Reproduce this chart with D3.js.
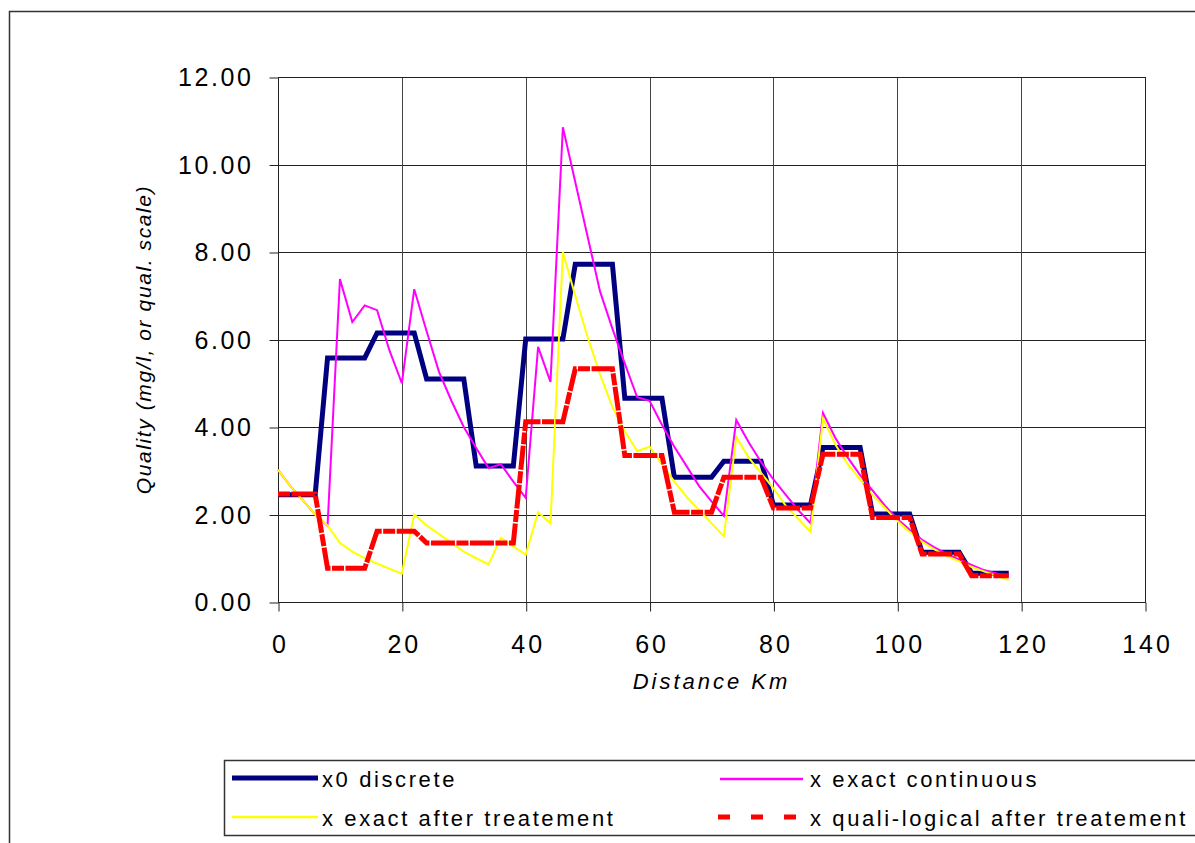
<!DOCTYPE html>
<html lang="en">
<head>
  <meta charset="utf-8">
  <title>Quality along river</title>
  <script src="https://d3js.org/d3.v7.min.js"></script>
  <style>
    body { margin: 0; background: #fff; }
    svg text { font-family: "Liberation Sans", Arial, sans-serif; fill: #000; }
  </style>
</head>
<body>
<div id="my_chart"></div>
<script>
  // distance along the river (km)
  const km = [0, 2, 4, 6, 8, 10, 12, 14, 16, 18, 20, 22, 24, 26, 28, 30, 32, 34, 36, 38,
    40, 42, 44, 46, 48, 50, 52, 54, 56, 58, 60, 62, 64, 66, 68, 70, 72, 74, 76, 78,
    80, 82, 84, 86, 88, 90, 92, 94, 96, 98, 100, 102, 104, 106, 108, 110, 112, 114, 116, 118]

  const x0Discrete = [2.45, 2.45, 2.45, 2.45, 5.58, 5.58, 5.58, 5.58, 6.15, 6.15, 6.15, 6.15,
    5.10, 5.10, 5.10, 5.10, 3.11, 3.11, 3.11, 3.11, 6.01, 6.01, 6.01, 6.01,
    7.72, 7.72, 7.72, 7.72, 4.66, 4.66, 4.66, 4.66, 2.85, 2.85, 2.85, 2.85,
    3.22, 3.22, 3.22, 3.22, 2.22, 2.22, 2.22, 2.22, 3.53, 3.53, 3.53, 3.53,
    2.01, 2.01, 2.01, 2.01, 1.14, 1.14, 1.14, 1.14, 0.66, 0.66, 0.66, 0.66]

  const xExactContinuous = [3.02, 2.65, 2.33, 2.00, 1.74, 7.38, 6.40, 6.78, 6.67, 5.75, 5.00, 7.15,
    6.19, 5.26, 4.60, 4.00, 3.52, 3.06, 3.15, 2.75, 2.38, 5.83, 5.03, 10.85,
    9.60, 8.35, 7.10, 6.25, 5.45, 4.68, 4.60, 4.05, 3.55, 3.10, 2.65, 2.30,
    1.97, 4.16, 3.65, 3.20, 2.80, 2.45, 2.10, 1.80, 4.32, 3.75, 3.30, 2.90,
    2.55, 2.20, 1.90, 1.65, 1.42, 1.25, 1.10, 0.97, 0.85, 0.73, 0.65, 0.58]

  const xExactTreated = [3.02, 2.65, 2.33, 2.00, 1.75, 1.35, 1.15, 1.00, 0.88, 0.76, 0.65, 2.00,
    1.75, 1.55, 1.35, 1.15, 1.00, 0.86, 1.47, 1.27, 1.08, 2.05, 1.80, 8.00,
    7.00, 6.05, 5.20, 4.46, 3.90, 3.45, 3.55, 3.15, 2.75, 2.40, 2.10, 1.80,
    1.50, 3.77, 3.30, 2.95, 2.60, 2.20, 1.90, 1.60, 4.20, 3.60, 3.15, 2.80,
    2.45, 2.15, 1.85, 1.60, 1.38, 1.20, 1.05, 0.93, 0.80, 0.70, 0.60, 0.50]

  const xQualiTreated = [2.47, 2.47, 2.47, 2.47, 0.77, 0.77, 0.77, 0.77, 1.62, 1.62, 1.62, 1.62,
    1.35, 1.35, 1.35, 1.35, 1.35, 1.35, 1.35, 1.35, 4.12, 4.12, 4.12, 4.12,
    5.33, 5.33, 5.33, 5.33, 3.35, 3.35, 3.35, 3.35, 2.05, 2.05, 2.05, 2.05,
    2.85, 2.85, 2.85, 2.85, 2.15, 2.15, 2.15, 2.15, 3.38, 3.38, 3.38, 3.38,
    1.93, 1.93, 1.93, 1.93, 1.10, 1.10, 1.10, 1.10, 0.60, 0.60, 0.60, 0.60]

  const xTicks = [0, 20, 40, 60, 80, 100, 120, 140]
  const yTicks = [0, 2, 4, 6, 8, 10, 12]

  const seriesNames = ["x0 discrete", "x exact continuous", "x exact after treatement", "x quali-logical after treatement"]

  // drawing order: navy first, red dashes on top
  const series = [
    { name: seriesNames[0], values: x0Discrete, color: "#000080", width: 5, dash: null },
    { name: seriesNames[1], values: xExactContinuous, color: "#ff00ff", width: 2, dash: null },
    { name: seriesNames[2], values: xExactTreated, color: "#ffff00", width: 2, dash: null },
    { name: seriesNames[3], values: xQualiTreated, color: "#ff0000", width: 5, dash: "12,1.5,24,1.5" }
  ]

  const W = 1195, H = 843
  const plot = { left: 278, right: 1145, top: 77, bottom: 602 }

  const svg = d3.select("#my_chart")
    .append("svg")
    .attr("width", W)
    .attr("height", H)

  // outer chart frame (runs off the right and bottom edges)
  svg.append("rect")
    .attr("x", 9.5).attr("y", 11.5)
    .attr("width", 1200).attr("height", 850)
    .attr("fill", "none")
    .attr("stroke", "#333")
    .attr("stroke-width", 1.5)

  const x = d3.scaleLinear().domain([0, 140]).range([plot.left, plot.right])
  const y = d3.scaleLinear().domain([0, 12]).range([plot.bottom, plot.top])

  // grid lines
  svg.append("g")
    .selectAll("line")
    .data(yTicks.slice(1, -1))
    .join("line")
      .attr("x1", plot.left).attr("x2", plot.right)
      .attr("y1", d => Math.round(y(d)) + 0.5).attr("y2", d => Math.round(y(d)) + 0.5)
      .attr("stroke", "#222")
  svg.append("g")
    .selectAll("line")
    .data(xTicks.slice(1, -1))
    .join("line")
      .attr("x1", d => Math.round(x(d)) + 0.5).attr("x2", d => Math.round(x(d)) + 0.5)
      .attr("y1", plot.top).attr("y2", plot.bottom)
      .attr("stroke", "#444")

  // axes
  const xAxis = svg.append("g")
    .attr("transform", `translate(0.5, ${plot.bottom + 0.5})`)
    .call(d3.axisBottom(x).tickValues(xTicks).tickSizeInner(9).tickSizeOuter(0).tickPadding(24).tickFormat(d3.format("d")))
  xAxis.select(".domain").remove()
  xAxis.selectAll("line").attr("stroke", "#222")
  xAxis.selectAll("text")
    .attr("font-size", 25)
    .attr("letter-spacing", 3)
    .attr("dx", 1.5)

  const yAxis = svg.append("g")
    .attr("transform", `translate(${plot.left + 0.5}, 0.5)`)
    .call(d3.axisLeft(y).tickValues(yTicks).tickSizeInner(9).tickSizeOuter(0).tickPadding(16).tickFormat(d3.format(".2f")))
  yAxis.select(".domain").remove()
  yAxis.selectAll("line").attr("stroke", "#222")
  yAxis.selectAll("text")
    .attr("font-size", 25)
    .attr("letter-spacing", 2.6)

  // plot area border
  svg.append("rect")
    .attr("x", plot.left + 0.5).attr("y", plot.top + 0.5)
    .attr("width", plot.right - plot.left).attr("height", plot.bottom - plot.top)
    .attr("fill", "none")
    .attr("stroke", "#222")

  // series lines
  const line = d3.line()
    .x((d, i) => x(km[i]))
    .y(d => y(d))

  svg.append("g")
    .selectAll("path")
    .data(series)
    .join("path")
      .attr("d", d => line(d.values))
      .attr("fill", "none")
      .attr("stroke", d => d.color)
      .attr("stroke-width", d => d.width)
      .attr("stroke-dasharray", d => d.dash)
      .attr("stroke-linejoin", "miter")

  // axis titles
  svg.append("text")
    .attr("x", (plot.left + plot.right) / 2)
    .attr("y", 689)
    .attr("text-anchor", "middle")
    .attr("font-size", 22)
    .attr("font-style", "italic")
    .attr("letter-spacing", 3)
    .text("Distance Km")

  svg.append("text")
    .attr("transform", `translate(151, ${(plot.top + plot.bottom) / 2}) rotate(-90)`)
    .attr("text-anchor", "middle")
    .attr("font-size", 21)
    .attr("font-style", "italic")
    .attr("letter-spacing", 1.6)
    .text("Quality (mg/l, or qual. scale)")

  // legend box
  const legend = svg.append("g")
  legend.append("rect")
    .attr("x", 224.5).attr("y", 760.5)
    .attr("width", 1000).attr("height", 75)
    .attr("fill", "#fff")
    .attr("stroke", "#333")
    .attr("stroke-width", 1.5)

  const legendPos = [
    { x1: 232, x2: 318, y: 778, tx: 322, ty: 787, dash: null },
    { x1: 720, x2: 803, y: 779, tx: 810, ty: 787, dash: null },
    { x1: 232, x2: 318, y: 817, tx: 322, ty: 826, dash: null },
    { x1: 718, x2: 797, y: 817, tx: 810, ty: 826, dash: "12,21" }
  ]

  legend.selectAll("line")
    .data(series)
    .join("line")
      .attr("x1", (d, i) => legendPos[i].x1)
      .attr("x2", (d, i) => legendPos[i].x2)
      .attr("y1", (d, i) => legendPos[i].y)
      .attr("y2", (d, i) => legendPos[i].y)
      .attr("stroke", d => d.color)
      .attr("stroke-width", d => d.width === 2 ? 2.5 : 5)
      .attr("stroke-dasharray", (d, i) => legendPos[i].dash)

  legend.selectAll("text")
    .data(series)
    .join("text")
      .attr("x", (d, i) => legendPos[i].tx)
      .attr("y", (d, i) => legendPos[i].ty)
      .attr("font-size", 22)
      .attr("letter-spacing", 2.6)
      .text(d => d.name)
</script>
</body>
</html>
